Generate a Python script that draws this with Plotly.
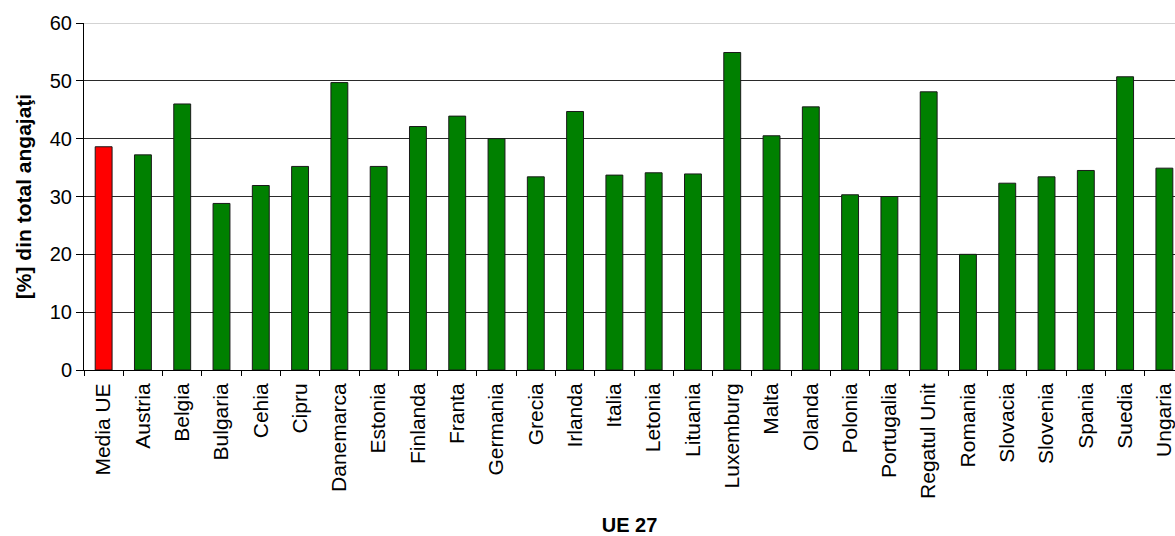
import plotly.graph_objects as go

# Share of employees (%) by EU-27 member state, with the EU average first
tari = ["Media UE", "Austria", "Belgia", "Bulgaria", "Cehia", "Cipru", "Danemarca",
        "Estonia", "Finlanda", "Franta", "Germania", "Grecia", "Irlanda", "Italia",
        "Letonia", "Lituania", "Luxemburg", "Malta", "Olanda", "Polonia", "Portugalia",
        "Regatul Unit", "Romania", "Slovacia", "Slovenia", "Spania", "Suedia", "Ungaria"]
procente = [38.6, 37.2, 46.0, 28.8, 31.9, 35.2, 49.7,
            35.2, 42.1, 43.9, 40.0, 33.4, 44.7, 33.7,
            34.1, 33.9, 54.9, 40.5, 45.5, 30.3, 30.0,
            48.1, 20.0, 32.3, 33.4, 34.5, 50.7, 34.9]
y_ticks = [0, 10, 20, 30, 40, 50, 60]

culori = ["#FF0000"] + ["#008000"] * (len(tari) - 1)

font_family = "Arial, Liberation Sans, sans-serif"

fig = go.Figure(
    go.Bar(
        x=tari,
        y=procente,
        width=0.43,
        marker=dict(color=culori, line=dict(color="#1a1a1a", width=1)),
    )
)

fig.update_layout(
    width=1175,
    height=536,
    margin=dict(l=84, r=0, t=23, b=166),
    paper_bgcolor="white",
    plot_bgcolor="white",
    showlegend=False,
    font=dict(family=font_family, color="black"),
    shapes=[
        dict(type="line", xref="paper", yref="y", x0=0, x1=1, y0=60, y1=60,
             line=dict(color="#a8a8a8", width=1), layer="below"),
    ],
)

fig.update_xaxes(
    range=[-0.5, 27.27],
    automargin=False,
    tickangle=-90,
    tickfont=dict(size=21, family=font_family, color="black"),
    ticks="outside",
    ticklen=5,
    tickcolor="black",
    tickson="boundaries",
    ticklabelstandoff=4,
    showline=True,
    linecolor="black",
    linewidth=1,
    showgrid=False,
    title=dict(text="<b>UE 27</b>", font=dict(size=20, family=font_family), standoff=24),
)

fig.update_yaxes(
    range=[0, 60],
    automargin=False,
    tickvals=y_ticks,
    tickfont=dict(size=20, family=font_family, color="black"),
    ticks="outside",
    ticklen=7,
    tickcolor="black",
    showline=True,
    linecolor="black",
    linewidth=1,
    showgrid=True,
    gridcolor="#2a2a2a",
    gridwidth=1,
    zeroline=False,
    title=dict(text="<b>[%] din total angajaţi</b>", font=dict(size=21, family=font_family), standoff=12),
)

fig.write_html("out.html")
